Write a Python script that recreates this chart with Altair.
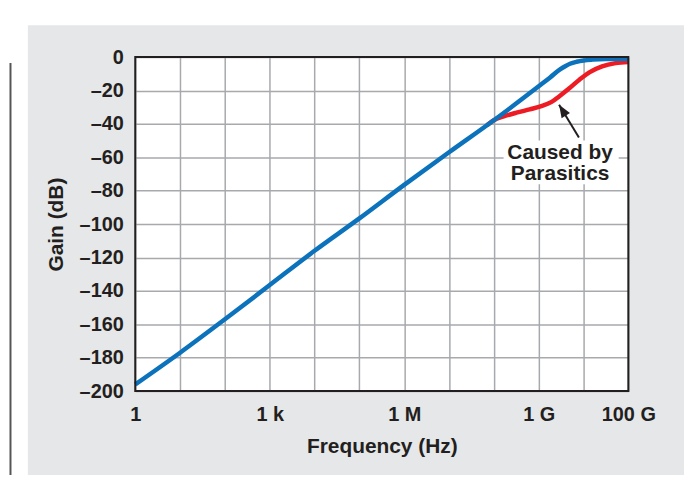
import altair as alt
import pandas as pd

# ---------------- data ----------------
freq_blue = [1, 10, 100, 1e3, 1e4, 1e5, 1e6, 1e7, 1e8, 1e9, 1.8e9, 3e9, 4e9,
             5e9, 7e9, 1e10, 1.6e10, 3.2e10, 1e11]
gain_blue = [-196, -177, -157, -136.5, -116, -96.6, -76.5, -57, -37.8, -17.5,
             -12.2, -7.3, -5.3, -4.0, -2.8, -2.0, -1.5, -1.2, -1.2]

freq_red = [7e7, 1e8, 1.6e8, 3.2e8, 6.3e8, 1.15e9, 1.9e9, 2.9e9, 4.9e9, 8.1e9,
            1.35e10, 2.6e10, 5.2e10, 1e11]
gain_red = [-40.8, -37.8, -35.7, -33.3, -31.3, -29.4, -27, -23.4, -18.5, -13.5,
            -9.1, -5.5, -3.6, -3.0]

x_tick_values = [1, 10, 100, 1e3, 1e4, 1e5, 1e6, 1e7, 1e8, 1e9, 1e10, 1e11]
x_label_values = [1, 1e3, 1e6, 1e9, 1e11]
x_label_texts = ["1", "1 k", "1 M", "1 G", "100 G"]
y_tick_values = [0, -20, -40, -60, -80, -100, -120, -140, -160, -180, -200]

note_lines = ["Caused by", "Parasitics"]
note_freq = [3.0e9, 3.0e9]
note_gain = [-61.3, -73.8]
note_box = {"f": 1.65e8, "f2": 6.1e10, "g": -50, "g2": -76.2}
arrow_tail = (7.9e9, -48.2)
arrow_tip = (2.85e9, -28.6)

# ---------------- style ----------------
FONT = "Liberation Sans"
TXT = "#231f20"
GRAY_BG = "#e6e7e8"
BLUE = "#0b72bb"
RED = "#ed1c24"
GRID = "#a7a9ac"

W, H = 496, 336

df_blue = pd.DataFrame({"f": freq_blue, "g": gain_blue})
df_red = pd.DataFrame({"f": freq_red, "g": gain_red})
df_note = pd.DataFrame({"f": note_freq, "g": note_gain, "t": note_lines})
df_box = pd.DataFrame([note_box])
df_arrow = pd.DataFrame({"f": [arrow_tail[0]], "g": [arrow_tail[1]],
                         "f2": [arrow_tip[0]], "g2": [arrow_tip[1]]})
df_head = pd.DataFrame({"f": [arrow_tip[0]], "g": [arrow_tip[1]]})
one = pd.DataFrame({"a": [0]})

label_expr = " : ".join(
    f"datum.value == {v:.0f} ? '{t}'" for v, t in zip(x_label_values, x_label_texts)
) + " : ''"

x_axis = alt.Axis(
    values=x_tick_values, labelExpr=label_expr, title="Frequency (Hz)",
    grid=True, gridColor=GRID, gridWidth=1.5, ticks=False, domain=False,
    labelFont=FONT, labelFontSize=20, labelFontWeight="bold", labelColor=TXT,
    labelPadding=30, labelBaseline="alphabetic", labelOverlap=False,
    labelFlush=False, labelBound=False,
    titleFont=FONT, titleFontSize=21, titleFontWeight="bold", titleColor=TXT,
    titleY=62, titleBaseline="alphabetic",
)
y_axis = alt.Axis(
    values=y_tick_values,
    labelExpr="datum.value < 0 ? '\u2013' + (-datum.value) : '0'",
    title="Gain (dB)", grid=True, gridColor=GRID, gridWidth=1.5,
    ticks=False, domain=False,
    labelFont=FONT, labelFontSize=20, labelFontWeight="bold", labelColor=TXT,
    labelPadding=12, labelOverlap=False,
    titleFont=FONT, titleFontSize=21, titleFontWeight="bold", titleColor=TXT,
    titleX=-79, titleY=H / 2, titleAngle=-90, titleBaseline="middle",
    titleAlign="center",
)
xs = alt.Scale(type="log", domain=[1, 1e11])
ys = alt.Scale(domain=[-200, 0], nice=False)

X = alt.X("f:Q", scale=xs, axis=x_axis)
Y = alt.Y("g:Q", scale=ys, axis=y_axis)

# decorations outside the gray panel (pixel positions relative to plot)
white_left = alt.Chart(one).mark_rect(color="white").encode(
    x=alt.value(-140), x2=alt.value(-108), y=alt.value(-60), y2=alt.value(H + 90))
white_top = alt.Chart(one).mark_rect(color="white").encode(
    x=alt.value(-140), x2=alt.value(W + 70), y=alt.value(-60), y2=alt.value(-32))
side_line = alt.Chart(one).mark_rule(color="#555555", strokeWidth=2).encode(
    x=alt.value(-125.5), y=alt.value(6), y2=alt.value(H + 90))

red_line = alt.Chart(df_red).mark_line(
    color=RED, strokeWidth=4.5, interpolate="monotone").encode(x=X, y=Y)
blue_line = alt.Chart(df_blue).mark_line(
    color=BLUE, strokeWidth=4.5, interpolate="monotone").encode(x=X, y=Y)

box = alt.Chart(df_box).mark_rect(color="white").encode(
    x=X, x2="f2:Q", y=Y, y2="g2:Q")
note = alt.Chart(df_note).mark_text(
    font=FONT, fontSize=21, fontWeight="bold", color=TXT,
    align="center", baseline="alphabetic").encode(x=X, y=Y, text="t:N")
arrow = alt.Chart(df_arrow).mark_rule(color=TXT, strokeWidth=2).encode(
    x=X, y=Y, x2="f2:Q", y2="g2:Q")
head = alt.Chart(df_head).mark_point(
    shape="M0,0L0.7,1.8L-0.7,1.8Z", filled=True, color=TXT, opacity=1,
    size=200, angle=328).encode(x=X, y=Y)

border = alt.Chart(one).mark_rect(fill=None, stroke="#231f20", strokeWidth=2).encode(
    x=alt.value(0), x2=alt.value(W), y=alt.value(0), y2=alt.value(H))

chart = alt.layer(
    white_left, white_top, side_line, box, red_line, blue_line, note, arrow,
    head, border,
).properties(
    width=W, height=H, autosize="none",
    padding={"left": 128, "top": 48, "right": 56, "bottom": 83},
    background=GRAY_BG,
).configure_view(fill="white", stroke=None)

chart.save("out.html", embed_options={"renderer": "svg", "actions": False})
